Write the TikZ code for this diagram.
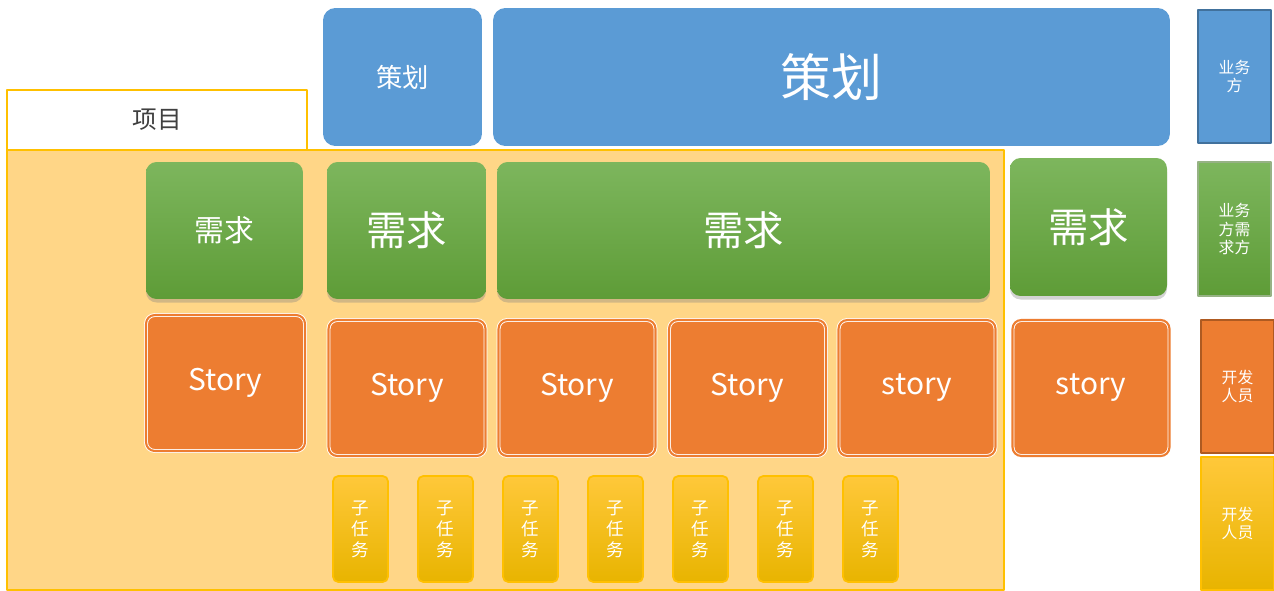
\documentclass[tikz,border=0pt]{standalone}
\usepackage{fontspec}
\setmainfont{Noto Sans CJK SC}
\usetikzlibrary{shadows}
\definecolor{planblue}{HTML}{5B9BD5}
\definecolor{planedge}{HTML}{41719C}
\definecolor{reqtop}{HTML}{7DB65D}
\definecolor{reqbot}{HTML}{5E9C37}
\definecolor{reqedge}{HTML}{507E32}
\definecolor{storyorange}{HTML}{ED7D31}
\definecolor{storyedge}{HTML}{AE5A21}
\definecolor{tasktop}{HTML}{FFC83A}
\definecolor{taskbot}{HTML}{E8B400}
\definecolor{taskedge}{HTML}{FFC000}
\definecolor{projfill}{HTML}{FFD687}
\begin{document}
\begin{tikzpicture}[x=0.02cm,y=-0.02cm,line join=round]
				\tikzset{every node/.style={text=white,inner sep=0pt,align=center},
					planbox/.style={fill=planblue,rounded corners=7pt},
					reqbox/.style={top color=reqtop,bottom color=reqbot,rounded corners=6pt,drop shadow={shadow xshift=0pt,shadow yshift=-2pt,opacity=0.35}},
					storybox/.style={fill=storyorange,draw=white,double=storyorange,double distance=1.2pt,line width=0.5pt,rounded corners=5pt,minimum width=3.14cm,minimum height=2.72cm,font=\fontsize{17}{20}\selectfont},
					taskbox/.style={top color=tasktop,bottom color=taskbot,draw=taskedge,line width=1pt,rounded corners=3pt,minimum width=1.1cm,minimum height=2.12cm,font=\fontsize{10}{12}\selectfont},
					sidebox/.style={minimum width=1.46cm,minimum height=2.66cm,line width=0.8pt,font=\fontsize{9}{10.5}\selectfont}}
				\useasboundingbox (0,0) rectangle (1274,591);
				% project area
				\draw[fill=projfill,draw=taskedge,line width=0.8pt] (7,150) rectangle (1004,590);
				\node[draw=taskedge,fill=white,line width=0.8pt,text=black!75,minimum width=6cm,minimum height=1.2cm,font=\fontsize{14}{16}\selectfont] (proj) at (157,120) {项目};
				% planning
				\node[planbox,minimum width=3.18cm,minimum height=2.76cm,font=\fontsize{15}{18}\selectfont] (plan1) at (402.5,77) {策划};
				\node[planbox,minimum width=13.54cm,minimum height=2.76cm,font=\fontsize{29}{34}\selectfont] (plan2) at (831.5,77) {策划};
				% requirements
				\node[reqbox,minimum width=3.14cm,minimum height=2.74cm,font=\fontsize{17}{20}\selectfont] (req1) at (224.5,230.5) {需求};
				\node[reqbox,minimum width=3.18cm,minimum height=2.74cm,font=\fontsize{23}{27}\selectfont] (req2) at (406.5,230.5) {需求};
				\node[reqbox,minimum width=9.86cm,minimum height=2.74cm,font=\fontsize{23}{27}\selectfont] (req3) at (743.5,230.5) {需求};
				\node[reqbox,minimum width=3.14cm,minimum height=2.76cm,font=\fontsize{23}{27}\selectfont] (req4) at (1088.5,227) {需求};
				% stories
				\node[storybox,minimum width=3.18cm] (story1) at (225.5,383) {Story};
				\foreach \x/\t [count=\i from 2] in {407/Story,577/Story,747.5/Story,917/story,1091/story}
					\node[storybox] (story\i) at (\x,388) {\t};
				% sub tasks
				\foreach \i in {1,...,7}
					\node[taskbox] (task\i) at ({360.5+85*(\i-1)},529) {子\\任\\务};
				% roles
				\node[sidebox,fill=planblue,draw=planedge] (bizA) at (1234.5,76.5) {业务\\方};
				\node[sidebox,top color=reqtop,bottom color=reqbot,draw=reqedge!60,minimum height=2.68cm] (bizB) at (1234.5,229) {业务\\方需\\求方};
				\node[sidebox,fill=storyorange,draw=storyedge] (devA) at (1237.5,386.5) {开发\\人员};
				\node[sidebox,top color=tasktop,bottom color=taskbot,draw=taskedge] (devB) at (1237.5,523.5) {开发\\人员};
			\end{tikzpicture}
\end{document}
